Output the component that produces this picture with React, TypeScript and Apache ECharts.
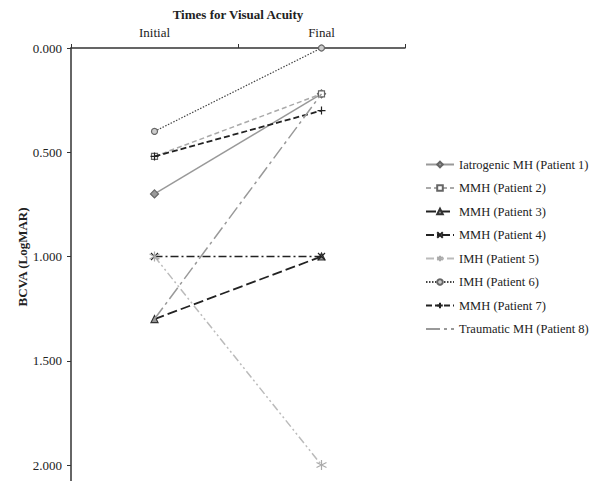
import React, { useEffect, useRef } from "react";
import * as echarts from "echarts";

const categories = ["Initial", "Final"];
const seriesNames = [
  "Iatrogenic MH (Patient 1)",
  "MMH (Patient 2)",
  "MMH (Patient 3)",
  "MMH (Patient 4)",
  "IMH (Patient 5)",
  "IMH (Patient 6)",
  "MMH (Patient 7)",
  "Traumatic MH (Patient 8)",
];
const p1 = [0.7, 0.22];
const p2 = [0.52, 0.22];
const p3 = [1.3, 1.0];
const p4 = [1.0, 1.0];
const p5 = [1.0, 2.0];
const p6 = [0.4, 0.0];
const p7 = [0.52, 0.3];
const p8 = [1.3, 0.22];
const yTicks = [0, 0.5, 1.0, 1.5, 2.0, 2.5];

const FONT = "Liberation Serif";

const crossPath = "path://M0,0L10,10M10,0L0,10";
const plusPath = "path://M5,0L5,10M0,5L10,5";
const starPath = "path://M5,0L5,10M0,2.5L10,7.5M0,7.5L10,2.5";
const nonePath = "path://M0,0L10,10";

export default function App() {
  const ref = useRef<HTMLDivElement>(null);
  useEffect(() => {
    document.body.style.margin = "0";
    const chart = echarts.init(ref.current!, undefined, { renderer: "svg" });
    const styles = [
      { data: p1, color: "#999", type: "solid", width: 1.5, symbol: "diamond", size: 8, fill: "#9a9a9a", border: "#666", bw: 1.2 },
      { data: p2, color: "#aaa", type: [5, 3], width: 1.5, symbol: "rect", size: 6, fill: "#fff", border: "#666", bw: 1.2 },
      { data: p3, color: "#222", type: [10, 4], width: 1.8, symbol: "triangle", size: 7, fill: "#999", border: "#333", bw: 1.2 },
      { data: p4, color: "#222", type: [8, 3, 2, 3], width: 1.5, symbol: crossPath, size: 7, fill: "transparent", border: "#222", bw: 1.2 },
      { data: p5, color: "#bbb", type: [8, 3, 2, 3, 2, 3], width: 1.5, symbol: starPath, size: 10, fill: "transparent", border: "#aaa", bw: 1.2 },
      { data: p6, color: "#444", type: [1.5, 1.5], width: 1.2, symbol: "circle", size: 6, fill: "#ccc", border: "#666", bw: 1.2 },
      { data: p7, color: "#222", type: [6, 3], width: 1.8, symbol: plusPath, size: 8, fill: "transparent", border: "#222", bw: 1.2 },
      { data: p8, color: "#999", type: [14, 4, 3, 4], width: 1.5, symbol: nonePath, size: 1, fill: "transparent", border: "transparent", bw: 0 },
    ];
    chart.setOption({
      animation: false,
      backgroundColor: "#fff",
      textStyle: { fontFamily: FONT },
      grid: { left: 71, top: 48, width: 334, height: 521.25, outerBoundsMode: "none", containLabel: false },
      legend: {
        orient: "vertical",
        left: 420,
        top: 153,
        itemWidth: 28,
        itemHeight: 7,
        itemGap: 10.5,
        textStyle: { fontFamily: FONT, fontSize: 12.5, color: "#222" },
        data: seriesNames,
      },
      xAxis: {
        type: "category",
        position: "top",
        data: categories,
        name: "Times for Visual Acuity",
        nameLocation: "middle",
        nameGap: 27,
        nameTextStyle: { fontFamily: FONT, fontSize: 13, fontWeight: "bold", color: "#222" },
        axisLine: { lineStyle: { color: "#333", width: 1.5 } },
        axisTick: { show: true, length: 4, lineStyle: { color: "#333" } },
        axisLabel: { fontFamily: FONT, fontSize: 13, color: "#222", margin: 9 },
      },
      yAxis: {
        type: "value",
        inverse: true,
        min: yTicks[0],
        max: yTicks[yTicks.length - 1],
        interval: 0.5,
        axisLine: { show: true, lineStyle: { color: "#333", width: 1.5 } },
        axisTick: { show: true, length: 4, lineStyle: { color: "#333" } },
        splitLine: { show: false },
        axisLabel: {
          fontFamily: FONT,
          fontSize: 13,
          color: "#222",
          margin: 9,
          formatter: (v: number) => (v > 2 ? "" : v.toFixed(3)),
        },
      },
      graphic: [
        {
          type: "text",
          x: 22,
          y: 257,
          rotation: Math.PI / 2,
          style: {
            text: "BCVA (LogMAR)",
            fontFamily: FONT,
            fontSize: 13,
            fontWeight: "bold",
            fill: "#222",
            align: "center",
            verticalAlign: "middle",
          },
        },
      ],
      series: styles.map((s, i) => ({
        name: seriesNames[i],
        type: "line",
        data: s.data,
        symbol: s.symbol,
        symbolSize: s.size,
        lineStyle: { color: s.color, type: s.type, width: s.width },
        itemStyle: { color: s.fill, borderColor: s.border, borderWidth: s.bw },
        z: 2 + i,
      })),
    });
    return () => chart.dispose();
  }, []);
  return <div ref={ref} style={{ width: 592, height: 481 }} />;
}
